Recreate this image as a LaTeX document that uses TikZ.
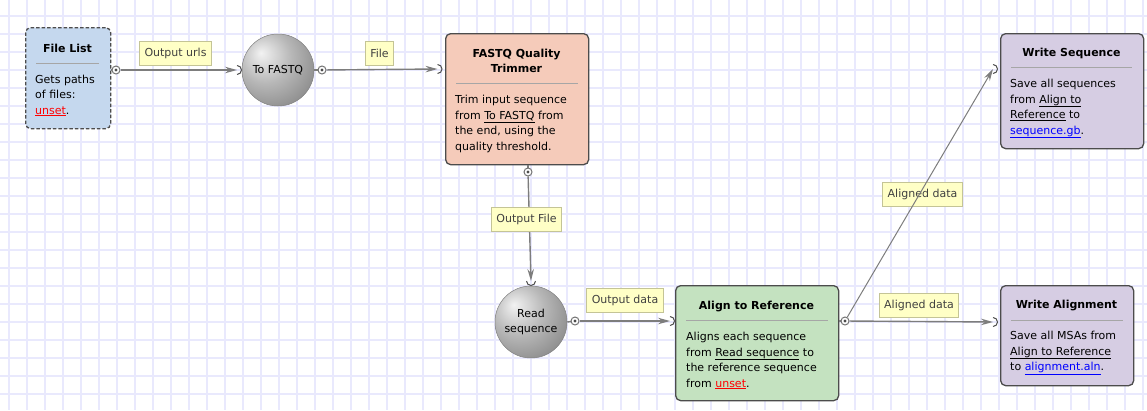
\documentclass[tikz,border=0pt]{standalone}
\usepackage{fontspec}
\setmainfont{DejaVu Sans}
\usetikzlibrary{arrows.meta}
\definecolor{gridc}{RGB}{233,233,253}
\definecolor{wirec}{RGB}{125,125,125}
\definecolor{flfill}{RGB}{197,216,238}
\definecolor{fqfill}{RGB}{245,203,186}
\definecolor{alfill}{RGB}{196,226,192}
\definecolor{wrfill}{RGB}{214,205,227}
\definecolor{lblfill}{RGB}{255,255,198}
\definecolor{lbldraw}{RGB}{196,196,150}
\pgfdeclareradialshading{sphshade}{\pgfpoint{-12bp}{12bp}}{color(0bp)=(black!5);color(18bp)=(black!28);color(42bp)=(black!52);color(70bp)=(black!72)}
\newcommand{\refl}[1]{\underline{#1}}
\newcommand{\unsetl}[1]{\textcolor{red}{\underline{#1}}}
\newcommand{\filel}[1]{\textcolor{blue}{\underline{#1}}}
\begin{document}
\begin{tikzpicture}[x=1pt,y=-1pt,>={Stealth[length=12pt,width=6.5pt,inset=4pt]},
every node/.style={font=\fontsize{11}{15.5}\selectfont},
task/.style={draw=black!70,line width=1.3pt,rounded corners=5pt,anchor=north west,inner sep=0pt},
boxtitle/.style={font=\fontsize{11}{15}\selectfont\bfseries,align=center,anchor=base,inner sep=0pt},
bodytext/.style={align=left,anchor=base west,inner sep=0pt},
sepline/.style={draw=black!35,line width=0.6pt},
sphere/.style={circle,draw=black!50,line width=0.5pt,shading=sphshade,minimum size=72pt,inner sep=0pt,align=center},
outport/.style={circle,draw=black!55,fill=white,line width=1pt,minimum size=8pt,inner sep=0pt,
  path picture={\fill[black!70](path picture bounding box.center)circle(1.7pt);}},
portarc/.style={draw=black!70,line width=1pt},
wire/.style={draw=wirec,line width=1.4pt},
lbl/.style={draw=lbldraw,fill=lblfill,line width=0.8pt,inner xsep=5pt,inner ysep=0pt,minimum height=24pt,text=black!75}]
\useasboundingbox[fill=white](0,0)rectangle(1147,410);
\foreach \x in {9,27,...,1147} \draw[gridc,line width=1.5pt](\x,0)--(\x,410);
\foreach \y in {16,34,...,410} \draw[gridc,line width=1.5pt](0,\y)--(1147,\y);

\node[task,dash pattern=on 3.5pt off 2pt,fill=flfill,minimum width=85pt,minimum height=101pt](filelist)at(25,27){};
\node[boxtitle]at(67.5,52){File List};
\draw[sepline](36,63)--(99,63);
\node[bodytext]at(35,114){Gets paths\\of files:\\\unsetl{unset}.};

\node[sphere](tofastq)at(278,70){To FASTQ};

\node[task,fill=fqfill,minimum width=143pt,minimum height=131pt](trimmer)at(445,33){};
\node[boxtitle]at(516.5,72){FASTQ Quality\\Trimmer};
\draw[sepline](456,83)--(578,83);
\node[bodytext]at(455,150){Trim input sequence\\from \refl{To FASTQ} from\\the end, using the\\quality threshold.};

\node[sphere](readseq)at(531,322){Read\\sequence};

\node[task,fill=alfill,minimum width=163pt,minimum height=115pt](align)at(675,285){};
\node[boxtitle]at(756.5,309){Align to Reference};
\draw[sepline](686,320)--(828,320);
\node[bodytext]at(686,387){Aligns each sequence\\from \refl{Read sequence} to\\the reference sequence\\from \unsetl{unset}.};

\node[task,fill=wrfill,minimum width=143pt,minimum height=115pt](writeseq)at(1000,33){};
\node[boxtitle]at(1071.5,56){Write Sequence};
\draw[sepline](1011,67)--(1132,67);
\node[bodytext]at(1010,134){Save all sequences\\from \refl{Align to}\\\refl{Reference} to\\\filel{sequence.gb}.};

\node[task,fill=wrfill,minimum width=133pt,minimum height=100pt](writealn)at(1000,285){};
\node[boxtitle]at(1066.5,308){Write Alignment};
\draw[sepline](1011,320)--(1123,320);
\node[bodytext]at(1010,370.5){Save all MSAs from\\\refl{Align to Reference}\\to \filel{alignment.aln}.};

\coordinate(tf-in)at(237,70);
\coordinate(tr-in)at(437.5,69);
\coordinate(rs-in)at(531,281);
\coordinate(al-in)at(670,321);
\coordinate(ws-in)at(993,69);
\coordinate(wa-in)at(993,322);
\draw[wire](filelist.east|-116,70)--(116,70);
\draw[wire](tofastq.east)--(322,70);
\draw[wire](trimmer.south-|528,172)--(528,172);
\draw[wire](readseq.east)--(575,321);
\draw[wire](align.east|-845,321)--(845,321);
\node[outport](fl-out)at(116,70){};
\node[outport](tf-out)at(322,70){};
\node[outport](tr-out)at(528,172){};
\node[outport](rs-out)at(575,321){};
\node[outport](al-out)at(845,321){};

\draw[wire,->](fl-out)--(tf-in);
\draw[wire,->](tf-out)--(tr-in);
\draw[wire,->](tr-out)--(rs-in);
\draw[wire,->](rs-out)--(al-in);
\draw[wire,->](al-out)--(wa-in);
\draw[portarc](tf-in)++(0,-4.5)arc(-90:90:4.5);
\draw[portarc](tr-in)++(0,-4.5)arc(-90:90:4.5);
\draw[portarc](al-in)++(0,-4.5)arc(-90:90:4.5);
\draw[portarc](ws-in)++(0,-4.5)arc(-90:90:4.5);
\draw[portarc](wa-in)++(0,-4.5)arc(-90:90:4.5);
\draw[portarc](rs-in)++(-4.5,0)arc(180:0:4.5);

\node[lbl](l-urls)at(175.5,53){Output urls};
\node[lbl](l-file)at(379.5,53.5){File};
\node[lbl](l-ofile)at(526.5,219.5){Output File};
\node[lbl](l-odata)at(625,300.5){Output data};
\node[lbl](l-aln1)at(922.5,194.5){Aligned data};
\node[lbl](l-aln2)at(919,305.5){Aligned data};
\draw[wire,line width=1pt,->](al-out)--(ws-in);
\end{tikzpicture}
\end{document}
